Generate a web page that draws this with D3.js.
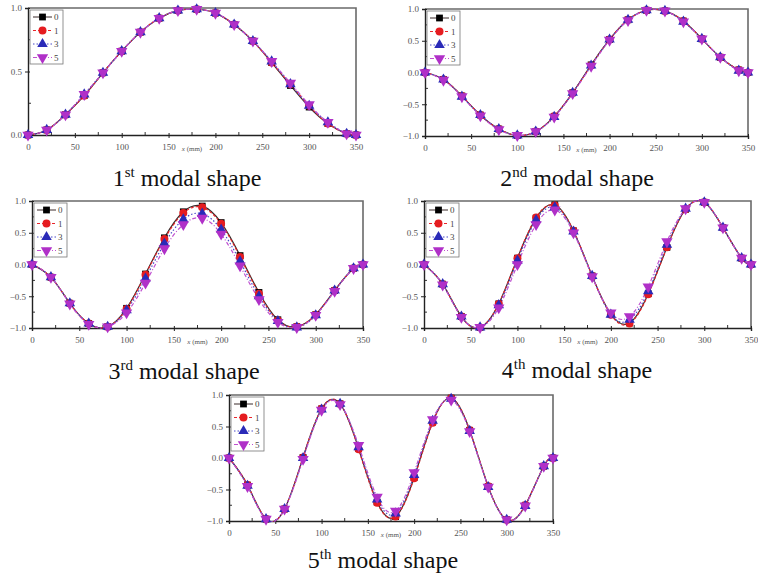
<!DOCTYPE html>
<html>
<head>
<meta charset="utf-8">
<script src="https://cdn.jsdelivr.net/npm/d3@7"></script>
<style>
  body { margin: 0; background: #fff; }
  svg { display: block; }
  svg text { font-family: "Liberation Serif", "Times New Roman", serif; }
</style>
</head>
<body>
<div id="vis"></div>
<script>
// modal shapes, 4 series each (0, 1, 3, 5)
var w = 758;
var h = 579;

var xVals = [0, 20, 40, 60, 80, 100, 120, 140, 160, 180, 200, 220, 240, 260, 280, 300, 320, 340, 350];
var seriesNames = ["0", "1", "3", "5"];
var xTicks = [0, 50, 100, 150, 200, 250, 300, 350];
var yTicksPos = [0, 0.5, 1];
var yTicksFull = [-1, -0.5, 0, 0.5, 1];
var captionNum = ["1", "2", "3", "4", "5"];
var captionSup = ["st", "nd", "rd", "th", "th"];

// mode 1
var m1s0 = [0, 0.04, 0.16, 0.31, 0.49, 0.66, 0.81, 0.92, 0.98, 0.99, 0.96, 0.87, 0.74, 0.57, 0.39, 0.22, 0.09, 0.01, 0];
var m1s1 = [0, 0.04, 0.16, 0.31, 0.49, 0.66, 0.81, 0.92, 0.98, 0.99, 0.96, 0.87, 0.74, 0.57, 0.40, 0.23, 0.09, 0.01, 0];
var m1s3 = [0, 0.04, 0.16, 0.32, 0.49, 0.66, 0.81, 0.92, 0.98, 0.99, 0.96, 0.87, 0.74, 0.58, 0.40, 0.23, 0.10, 0.01, 0];
var m1s5 = [0, 0.04, 0.16, 0.32, 0.49, 0.66, 0.81, 0.92, 0.98, 0.99, 0.96, 0.87, 0.74, 0.58, 0.41, 0.24, 0.10, 0.01, 0];
// mode 2
var m2s0 = [0, -0.11, -0.37, -0.67, -0.89, -0.99, -0.93, -0.69, -0.32, 0.12, 0.52, 0.83, 0.98, 0.97, 0.81, 0.53, 0.24, 0.04, 0];
var m2s1 = [0, -0.11, -0.37, -0.67, -0.89, -0.99, -0.93, -0.69, -0.32, 0.11, 0.52, 0.83, 0.98, 0.97, 0.81, 0.53, 0.24, 0.04, 0];
var m2s3 = [0, -0.11, -0.38, -0.67, -0.89, -0.99, -0.93, -0.70, -0.32, 0.11, 0.52, 0.83, 0.98, 0.97, 0.80, 0.53, 0.24, 0.03, 0];
var m2s5 = [0, -0.12, -0.38, -0.68, -0.90, -0.99, -0.93, -0.70, -0.33, 0.10, 0.51, 0.82, 0.98, 0.97, 0.80, 0.53, 0.24, 0.03, 0];
// mode 3
var m3s0 = [0, -0.20, -0.61, -0.93, -0.98, -0.69, -0.15, 0.42, 0.83, 0.92, 0.66, 0.14, -0.44, -0.87, -0.98, -0.79, -0.41, -0.06, 0];
var m3s1 = [0, -0.20, -0.61, -0.93, -0.98, -0.70, -0.16, 0.40, 0.81, 0.90, 0.64, 0.12, -0.46, -0.88, -0.98, -0.79, -0.41, -0.06, 0];
var m3s3 = [0, -0.20, -0.61, -0.93, -0.98, -0.72, -0.22, 0.33, 0.71, 0.80, 0.55, 0.05, -0.50, -0.89, -0.99, -0.80, -0.41, -0.06, 0];
var m3s5 = [0, -0.20, -0.62, -0.94, -0.98, -0.76, -0.29, 0.25, 0.63, 0.73, 0.48, -0.02, -0.55, -0.91, -0.99, -0.80, -0.42, -0.06, 0];
// mode 4
var m4s0 = [0, -0.31, -0.82, -0.99, -0.62, 0.10, 0.73, 0.94, 0.53, -0.18, -0.78, -0.92, -0.46, 0.27, 0.87, 0.98, 0.58, 0.10, 0];
var m4s1 = [0, -0.31, -0.82, -0.99, -0.62, 0.10, 0.74, 0.93, 0.53, -0.18, -0.79, -0.93, -0.47, 0.27, 0.87, 0.98, 0.58, 0.10, 0];
var m4s3 = [0, -0.31, -0.82, -0.99, -0.64, 0.06, 0.70, 0.90, 0.52, -0.18, -0.79, -0.87, -0.42, 0.31, 0.88, 0.98, 0.58, 0.10, 0];
var m4s5 = [0, -0.32, -0.83, -0.99, -0.68, 0.00, 0.63, 0.86, 0.50, -0.19, -0.76, -0.82, -0.35, 0.36, 0.88, 0.98, 0.58, 0.10, 0];
// mode 5
var m5s0 = [0, -0.43, -0.97, -0.81, 0.01, 0.78, 0.86, 0.15, -0.70, -0.93, -0.31, 0.57, 0.95, 0.44, -0.45, -0.98, -0.75, -0.13, 0];
var m5s1 = [0, -0.43, -0.97, -0.81, 0.01, 0.78, 0.86, 0.14, -0.71, -0.93, -0.32, 0.56, 0.95, 0.44, -0.45, -0.98, -0.75, -0.13, 0];
var m5s3 = [0, -0.44, -0.97, -0.81, 0.00, 0.77, 0.86, 0.17, -0.66, -0.88, -0.27, 0.59, 0.94, 0.43, -0.46, -0.98, -0.76, -0.13, 0];
var m5s5 = [0, -0.45, -0.97, -0.81, -0.02, 0.76, 0.85, 0.20, -0.62, -0.84, -0.23, 0.61, 0.92, 0.42, -0.46, -0.98, -0.76, -0.13, 0];

var modeData = [
  [m1s0, m1s1, m1s3, m1s5],
  [m2s0, m2s1, m2s3, m2s5],
  [m3s0, m3s1, m3s3, m3s5],
  [m4s0, m4s1, m4s3, m4s5],
  [m5s0, m5s1, m5s3, m5s5]
];

// panel boxes: plot area left/right/top/bottom + caption position
var panels = [
  { l: 28, r: 356, t: 8, b: 135, cx: 187, cy: 186, yt: yTicksPos },
  { l: 425, r: 748, t: 9, b: 136, cx: 577, cy: 186, yt: yTicksFull },
  { l: 32, r: 363, t: 201, b: 328, cx: 184, cy: 379, yt: yTicksFull },
  { l: 424, r: 751, t: 201, b: 328, cx: 577, cy: 378, yt: yTicksFull },
  { l: 229, r: 553, t: 395, b: 521, cx: 383, cy: 568, yt: yTicksFull }
];

var lineColors = ["#3a2a2a", "#e8242a", "#4848c8", "#c050d0"];
var fillColors = ["#000000", "#e51c20", "#2a2ab8", "#b030c8"];
var dashes = [null, "3,2", "1.5,2", "4,2,1,2"];
var symbols = [d3.symbolSquare, d3.symbolCircle, d3.symbolTriangle, d3.symbolTriangle];
var symSize = [46, 50, 48, 56];
var symRot = [0, 0, 0, 180];

var svg = d3.select("#vis").append("svg").attr("width", w).attr("height", h);

panels.forEach(function (p, i) {
  var g = svg.append("g");
  var x = d3.scaleLinear().domain([0, 350]).range([p.l, p.r]);
  var yMin = i === 0 ? 0 : -1;
  var y = d3.scaleLinear().domain([yMin, 1]).range([p.b, p.t]);

  // frame top/right
  g.append("path")
    .attr("d", "M" + p.l + "," + p.t + "H" + p.r + "V" + p.b)
    .attr("fill", "none")
    .attr("stroke", "#6a6a6a")
    .attr("stroke-width", 1.6);

  // minor ticks
  var xMinor = d3.range(25, 350, 50);
  g.selectAll(".xm").data(xMinor).enter().append("line")
    .attr("x1", function (d) { return x(d); })
    .attr("x2", function (d) { return x(d); })
    .attr("y1", p.b).attr("y2", p.b - 3)
    .attr("stroke", "#333").attr("stroke-width", 1);
  var yMinor = d3.range(yMin + 0.25, 1, 0.5);
  g.selectAll(".ym").data(yMinor).enter().append("line")
    .attr("y1", function (d) { return y(d); })
    .attr("y2", function (d) { return y(d); })
    .attr("x1", p.l).attr("x2", p.l + 3)
    .attr("stroke", "#333").attr("stroke-width", 1);

  // axes
  var xAxis = d3.axisBottom(x).tickValues(xTicks).tickSize(3).tickPadding(6).tickFormat(d3.format("d"));
  var gx = g.append("g").attr("transform", "translate(0," + p.b + ")").call(xAxis);
  var yAxis = d3.axisLeft(y).tickValues(p.yt).tickSize(3).tickPadding(3).tickFormat(d3.format(".1f"));
  var gy = g.append("g").attr("transform", "translate(" + p.l + ",0)").call(yAxis);
  [gx, gy].forEach(function (ax) {
    ax.attr("font-family", null);
    ax.select(".domain").attr("stroke", "#222").attr("stroke-width", 1.4);
    ax.selectAll(".tick line").attr("stroke", "#222").attr("stroke-width", 1);
    ax.selectAll("text")
      .attr("font-size", 9)
      .attr("fill", "#555");
  });
  gx.selectAll(".tick line").attr("y1", -2);
  gy.selectAll(".tick line").attr("x1", 2);

  // x axis title
  var xt = g.append("text")
    .attr("x", x(175))
    .attr("y", p.b + 16)
    .attr("text-anchor", "middle")
    .attr("font-size", 7)
    .attr("fill", "#555");
  xt.append("tspan").attr("font-style", "italic").text("x");
  xt.append("tspan").text(" (mm)");

  // lines
  var clipId = "clip" + i;
  svg.append("clipPath").attr("id", clipId).append("rect")
    .attr("x", p.l).attr("y", p.t - 1).attr("width", p.r - p.l).attr("height", p.b - p.t + 2);

  var line = d3.line()
    .x(function (d) { return x(d[0]); })
    .y(function (d) { return y(d[1]); })
    .curve(d3.curveNatural);

  modeData[i].forEach(function (vals, s) {
    var pts = xVals.map(function (xv, k) { return [xv, vals[k]]; });
    g.append("path")
      .datum(pts)
      .attr("d", line)
      .attr("clip-path", "url(#" + clipId + ")")
      .attr("fill", "none")
      .attr("stroke", lineColors[s])
      .attr("stroke-width", 1.2)
      .attr("stroke-dasharray", dashes[s]);
  });
  modeData[i].forEach(function (vals, s) {
    var pts = xVals.map(function (xv, k) { return [xv, vals[k]]; });
    g.selectAll(".m" + s).data(pts).enter().append("path")
      .attr("d", d3.symbol().type(symbols[s]).size(symSize[s]))
      .attr("transform", function (d) {
        return "translate(" + x(d[0]) + "," + y(d[1]) + ") rotate(" + symRot[s] + ")";
      })
      .attr("fill", fillColors[s]);
  });

  // legend
  var lg = g.append("g").attr("transform", "translate(" + (p.l + 2) + "," + (p.t + 2) + ")");
  lg.append("rect")
    .attr("width", 33).attr("height", 54)
    .attr("fill", "#fff")
    .attr("stroke", "#777").attr("stroke-width", 0.8);
  seriesNames.forEach(function (name, s) {
    var yy = 7 + s * 13.5;
    lg.append("line")
      .attr("x1", 3).attr("x2", 22).attr("y1", yy).attr("y2", yy)
      .attr("stroke", lineColors[s]).attr("stroke-width", 1)
      .attr("stroke-dasharray", dashes[s]);
    lg.append("path")
      .attr("d", d3.symbol().type(symbols[s]).size(symSize[s]))
      .attr("transform", "translate(12.5," + yy + ") rotate(" + symRot[s] + ")")
      .attr("fill", fillColors[s]);
    lg.append("text")
      .attr("x", 24).attr("y", yy + 3)
      .attr("font-size", 9)
      .attr("fill", "#444")
      .text(name);
  });

  // caption
  var cap = svg.append("text")
    .attr("x", p.cx).attr("y", p.cy)
    .attr("text-anchor", "middle")
    .attr("font-size", 24)
    .attr("fill", "#111");
  cap.append("tspan").text(captionNum[i]);
  cap.append("tspan").attr("font-size", 15).attr("dy", -9).text(captionSup[i]);
  cap.append("tspan").attr("dy", 9).text(" modal shape");
});
</script>
</body>
</html>
